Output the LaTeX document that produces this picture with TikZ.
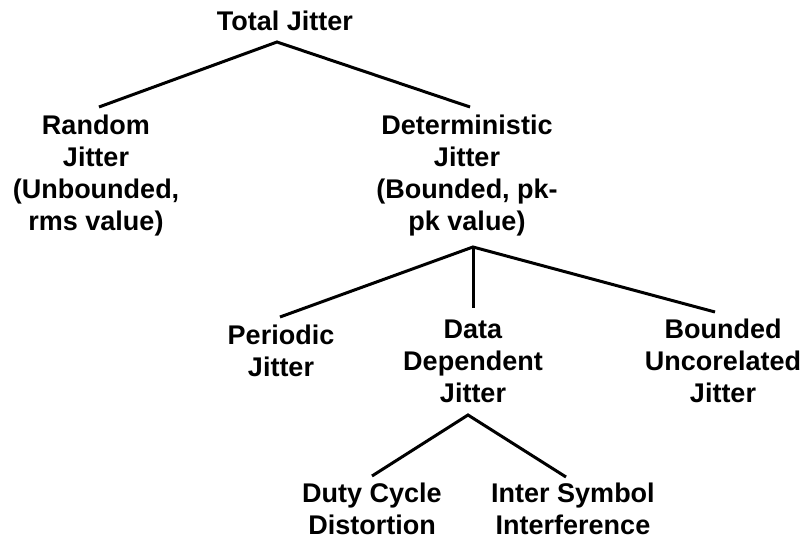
\documentclass[tikz,border=0pt]{standalone}
\usepackage{fontspec}
\setmainfont{Liberation Sans}
\begin{document}
\begin{tikzpicture}[x=1pt,y=-1pt,
  lbl/.style={anchor=north, inner sep=0pt, align=center,
    font=\fontsize{27}{32}\selectfont\bfseries},
  conn/.style={line width=3pt, line join=miter, line cap=butt}]
\useasboundingbox[fill=white] (0,0) rectangle (806,540);
% nodes (north = first baseline - 21)
\node[lbl] (TJ)  at (285,9)   {\rule{0pt}{21pt}Total Jitter};
\node[lbl] (RJ)  at (96,113)  {\rule{0pt}{21pt}Random\\Jitter\\(Unbounded,\\rms value)};
\node[lbl] (DJ)  at (467,113) {\rule{0pt}{21pt}Deterministic\\Jitter\\(Bounded, pk-\\pk value)};
\node[lbl] (PJ)  at (281,323) {\rule{0pt}{21pt}Periodic\\Jitter};
\node[lbl] (DDJ) at (473,317) {\rule{0pt}{21pt}Data\\Dependent\\Jitter};
\node[lbl] (BUJ) at (723,317) {\rule{0pt}{21pt}Bounded\\Uncorelated\\Jitter};
\node[lbl] (DCD) at (372,481) {\rule{0pt}{21pt}Duty Cycle\\Distortion};
\node[lbl] (ISI) at (573,481) {\rule{0pt}{21pt}Inter Symbol\\Interference};
% connector points
\coordinate (TJb)  at (277,42);
\coordinate (RJt)  at (99,107);
\coordinate (DJt)  at (470,107);
\coordinate (DJb)  at (473,247);
\coordinate (PJt)  at (280,317);
\coordinate (DDJt) at (473,308);
\coordinate (BUJt) at (715,312);
\coordinate (DDJb) at (468,415);
\coordinate (DCDt) at (372,476);
\coordinate (ISIt) at (566,477);
% connectors
\draw[conn] (RJt) -- (TJb) -- (DJt);
\draw[conn] (PJt) -- (DJb) -- (BUJt);
\draw[conn] (DJb) -- (DDJt);
\draw[conn] (DCDt) -- (DDJb) -- (ISIt);
\end{tikzpicture}
\end{document}
